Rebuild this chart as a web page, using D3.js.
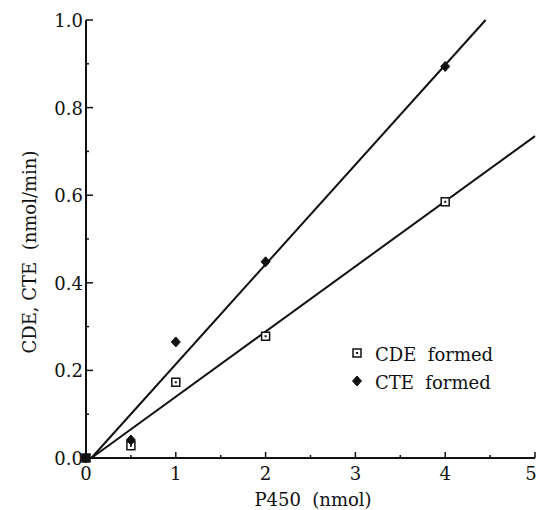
<!DOCTYPE html>
<html>
<head>
<meta charset="utf-8">
<script src="https://cdn.jsdelivr.net/npm/d3@7"></script>
<style>
  body { margin: 0; background: #fff; }
</style>
</head>
<body>
<script>
var cdeX = [0, 0.5, 1, 2, 4];
var cdeY = [0, 0.028, 0.173, 0.278, 0.585];
var cteX = [0, 0.5, 1, 2, 4];
var cteY = [0, 0.041, 0.265, 0.448, 0.894];
// regression lines (endpoints as drawn)
var cdeFit = [[0.06, 0], [5, 0.735]];
var cteFit = [[0.06, 0], [4.45, 1.0]];

var xTicks = [0, 1, 2, 3, 4, 5];
var yTicks = [0, 0.2, 0.4, 0.6, 0.8, 1.0];

var width = 537, height = 510;
var margin = {top: 20, right: 2, bottom: 52, left: 86};
var serif = "DejaVu Serif";

var svg = d3.select("body").append("svg")
    .attr("width", width)
    .attr("height", height)
    .style("font-family", serif);

var x = d3.scaleLinear().domain([0, 5]).range([margin.left, 535]);
var y = d3.scaleLinear().domain([0, 1]).range([458, margin.top]);

// axes lines
svg.append("line")
    .attr("x1", x(0)).attr("x2", x(0))
    .attr("y1", y(0)).attr("y2", y(1))
    .attr("stroke", "#111").attr("stroke-width", 2);
svg.append("line")
    .attr("x1", x(0)).attr("x2", x(5))
    .attr("y1", y(0)).attr("y2", y(0))
    .attr("stroke", "#111").attr("stroke-width", 2);

// y ticks, pointing inward
svg.selectAll(".ytick").data(d3.range(0, 1.01, 0.1)).enter().append("line")
    .attr("x1", x(0)).attr("x2", function(d, i) { return x(0) + (i % 2 ? 3 : 7); })
    .attr("y1", function(d) { return y(d); }).attr("y2", function(d) { return y(d); })
    .attr("stroke", "#111").attr("stroke-width", 1.5);

svg.selectAll(".ylab").data(yTicks).enter().append("text")
    .attr("x", x(0) - 3)
    .attr("y", function(d) { return y(d) + 7; })
    .attr("text-anchor", "end")
    .attr("font-family", serif)
    .attr("font-size", 18)
    .attr("fill", "#111")
    .text(function(d) { return d3.format(".1f")(d); });

// x ticks, pointing inward
svg.selectAll(".xlab").data(xTicks).enter().append("text")
    .attr("x", function(d) { return Math.min(x(d), 531); })
    .attr("y", 480)
    .attr("text-anchor", "middle")
    .attr("font-family", serif)
    .attr("font-size", 18)
    .attr("fill", "#111")
    .text(function(d) { return d; });

svg.selectAll(".xtick").data(d3.range(0, 5.01, 0.5)).enter().append("line")
    .attr("x1", function(d) { return x(d); }).attr("x2", function(d) { return x(d); })
    .attr("y1", y(0)).attr("y2", function(d, i) { return y(0) - (i % 2 ? 3 : 6); })
    .attr("stroke", "#111").attr("stroke-width", 1.5);

// axis titles
svg.append("text")
    .attr("x", 313).attr("y", 506)
    .attr("text-anchor", "middle")
    .attr("font-family", serif)
    .attr("font-size", 18)
    .attr("fill", "#111")
    .attr("xml:space", "preserve")
    .text("P450  (nmol)");

svg.append("text")
    .attr("transform", "translate(36,252) rotate(-90)")
    .attr("text-anchor", "middle")
    .attr("font-family", serif)
    .attr("font-size", 18)
    .attr("fill", "#111")
    .attr("xml:space", "preserve")
    .text("CDE, CTE  (nmol/min)");

// clip to plot area
svg.append("clipPath").attr("id", "clip")
  .append("rect").attr("x", x(0)).attr("y", 0).attr("width", width - x(0)).attr("height", y(0) + 1);

var line = d3.line().x(function(d) { return x(d[0]); }).y(function(d) { return y(d[1]); });

[cdeFit, cteFit].forEach(function(f) {
  svg.append("path")
      .attr("d", line(f))
      .attr("clip-path", "url(#clip)")
      .attr("fill", "none")
      .attr("stroke", "#111")
      .attr("stroke-width", 2);
});

// CDE markers: open square with center dot
function squareAt(g, cx, cy) {
  g.append("rect").attr("x", cx - 4).attr("y", cy - 4).attr("width", 8).attr("height", 8)
      .attr("fill", "#fff").attr("stroke", "#111").attr("stroke-width", 1.5);
  g.append("rect").attr("x", cx - 1).attr("y", cy - 1).attr("width", 2).attr("height", 2)
      .attr("fill", "#111");
}
// CTE markers: filled diamond, near-round
function diamondAt(g, cx, cy) {
  g.append("path")
      .attr("d", "M0,-5L4.5,0L0,5L-4.5,0Z")
      .attr("transform", "translate(" + cx + "," + cy + ")")
      .attr("stroke", "#111").attr("stroke-width", 1).attr("stroke-linejoin", "round")
      .attr("fill", "#111");
}

var marks = svg.append("g");
cdeX.forEach(function(d, i) { squareAt(marks, x(d), y(cdeY[i])); });
cteX.forEach(function(d, i) { diamondAt(marks, x(d), y(cteY[i])); });
// origin point looks solid
marks.append("rect").attr("x", x(0) - 4).attr("y", y(0) - 4).attr("width", 8).attr("height", 8).attr("fill", "#111");

// legend
squareAt(svg, 357, 353);
diamondAt(svg, 357, 381);
svg.append("text").attr("x", 375).attr("y", 361).attr("font-size", 18)
    .attr("font-family", serif).attr("fill", "#111")
    .attr("xml:space", "preserve").text("CDE  formed");
svg.append("text").attr("x", 375).attr("y", 389).attr("font-size", 18)
    .attr("font-family", serif).attr("fill", "#111")
    .attr("xml:space", "preserve").text("CTE  formed");
</script>
</body>
</html>
